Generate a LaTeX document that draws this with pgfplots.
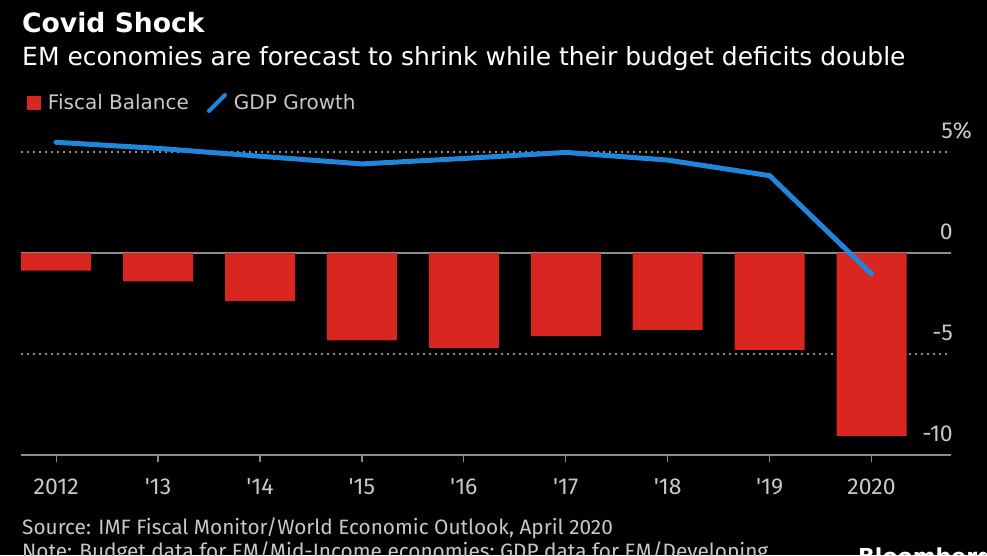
\documentclass[border=0pt]{standalone}
\usepackage{fontspec}
\setmainfont{Fira Sans}
\newfontfamily\headfont{DejaVu Sans}
\usepackage{pgfplots}
\pgfplotsset{compat=1.18}
\definecolor{barred}{HTML}{DA2620}
\definecolor{lineblue}{HTML}{1F86DB}
\definecolor{txtgray}{HTML}{C8C8C8}
\definecolor{gridgray}{HTML}{8C8C8C}
\begin{document}
\begin{tikzpicture}
\useasboundingbox (-21pt,-100pt) rectangle (966pt,455pt);
\fill[black] (-21pt,-100pt) rectangle (966pt,455pt);
\node[anchor=base west, inner sep=0pt, text=white, font=\headfont\fontsize{26.6}{30}\selectfont\bfseries] at (1pt,422pt) {Covid Shock};
\node[anchor=base west, inner sep=0pt, text=white, font=\headfont\fontsize{25}{29}\selectfont] at (1pt,389pt) {EM economies are forecast to shrink while their budget deficits double};
\begin{axis}[
  at={(0pt,0pt)}, anchor=south west,
  scale only axis, width=930pt, height=333.3pt,
  xmin=-0.345, xmax=8.78, ymin=-10, ymax=6.5,
  axis x line*=bottom, axis y line*=right,
  x axis line style={draw=gridgray, line width=1.5pt, -},
  y axis line style={draw=none},
  xtick={0,...,8},
  xticklabels={2012,\textquotesingle13,\textquotesingle14,\textquotesingle15,\textquotesingle16,\textquotesingle17,\textquotesingle18,\textquotesingle19,2020},
  tick align=outside, major tick length=7pt,
  xtick style={draw=gridgray, line width=1.2pt},
  ytick style={draw=none},
  ytick={-10,-5,0,5},
  yticklabels={-10,-5,0,5\rlap{\%}},
  yticklabel style={anchor=south east, inner sep=0pt, xshift=-5pt, yshift=13pt},
  xticklabel style={yshift=-13pt},
  ticklabel style={text=txtgray, font=\fontsize{23}{26}\selectfont},
  ymajorgrids,
  grid style={draw=gridgray, line width=1.5pt, dash pattern=on 1.5pt off 4.5pt},
  legend style={at={(0.003,1.056)}, anchor=west, draw=none, fill=none,
    text=txtgray, font=\headfont\fontsize{20}{24}\selectfont, legend columns=2,
    /tikz/every odd column/.append style={column sep=5pt},
    /tikz/every even column/.append style={column sep=16pt}},
  legend cell align=left,
]
\draw[gridgray, line width=1.5pt] (axis cs:-0.345,0) -- (axis cs:8.78,0);
\addplot[ybar, bar width=70pt, fill=barred, draw=none,
  legend image code/.code={\fill[barred] (0pt,-7pt) rectangle (14pt,7pt);}]
  coordinates {(0,-0.87) (1,-1.40) (2,-2.38) (3,-4.32) (4,-4.70) (5,-4.11) (6,-3.80) (7,-4.79) (8,-9.07)};
\addlegendentry{Fiscal Balance}
\addplot[lineblue, line width=5pt, line join=round, line cap=round, mark=none,
  legend image code/.code={\draw[lineblue, line width=4pt] (0pt,-8pt) -- (16pt,8pt);}]
  coordinates {(0,5.48) (1,5.18) (2,4.79) (3,4.41) (4,4.68) (5,4.98) (6,4.60) (7,3.83) (8,-1.04)};
\addlegendentry{GDP Growth}
\end{axis}
\node[anchor=base west, inner sep=0pt, text=txtgray, font=\fontsize{20.8}{24}\selectfont] at (1pt,-79pt) {Source: IMF Fiscal Monitor/World Economic Outlook, April 2020};
\node[anchor=base west, inner sep=0pt, text=txtgray, font=\fontsize{20.8}{24}\selectfont] at (1pt,-103pt) {Note: Budget data for EM/Mid-Income economies; GDP data for EM/Developing};
\node[anchor=base west, inner sep=0pt, text=white, font=\headfont\fontsize{22}{26}\selectfont\bfseries] at (837pt,-109pt) {Bloomberg};
\end{tikzpicture}
\end{document}
